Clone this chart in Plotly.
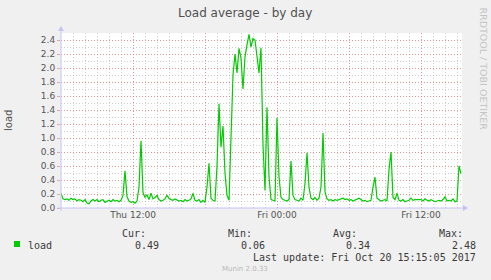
import pandas as pd
import plotly.graph_objects as go

# ---- data (10-minute samples) ----
start_time = "2017-10-19 06:00"
load_values = [
    0.21, 0.13, 0.12, 0.13, 0.11, 0.14, 0.12, 0.13, 0.10, 0.12,
    0.11, 0.09, 0.12, 0.07, 0.06, 0.10, 0.12, 0.10, 0.12, 0.09,
    0.11, 0.12, 0.08, 0.10, 0.11, 0.09, 0.12, 0.10, 0.11, 0.09,
    0.11, 0.18, 0.53, 0.16, 0.10, 0.08, 0.09, 0.07, 0.10, 0.30,
    0.96, 0.22, 0.15, 0.19, 0.12, 0.21, 0.13, 0.15, 0.18, 0.12,
    0.10, 0.11, 0.13, 0.18, 0.14, 0.12, 0.11, 0.13, 0.12, 0.10,
    0.11, 0.09, 0.12, 0.10, 0.11, 0.13, 0.21, 0.11, 0.10, 0.12,
    0.08, 0.11, 0.08, 0.30, 0.64, 0.14, 0.11, 0.10, 0.60, 1.49,
    0.87, 1.17, 0.50, 0.18, 0.11, 0.97, 1.90, 2.20, 1.93, 2.28,
    2.14, 1.70, 2.16, 2.33, 2.48, 2.30, 2.42, 2.40, 2.20, 1.93,
    2.29, 0.90, 0.25, 1.44, 0.45, 0.12, 0.11, 0.10, 1.29, 0.45,
    0.15, 0.12, 0.11, 0.10, 0.12, 0.67, 0.18, 0.12, 0.11, 0.10,
    0.14, 0.11, 0.35, 0.79, 0.30, 0.14, 0.12, 0.15, 0.11, 0.14,
    0.30, 1.07, 0.23, 0.13, 0.11, 0.12, 0.10, 0.12, 0.11, 0.12,
    0.13, 0.14, 0.12, 0.13, 0.11, 0.12, 0.10, 0.11, 0.12, 0.14,
    0.12, 0.10, 0.11, 0.09, 0.10, 0.11, 0.30, 0.44, 0.14, 0.12,
    0.10, 0.11, 0.12, 0.10, 0.55, 0.80, 0.15, 0.12, 0.21, 0.11,
    0.10, 0.12, 0.09, 0.10, 0.11, 0.14, 0.11, 0.12, 0.12, 0.11,
    0.12, 0.10, 0.13, 0.11, 0.10, 0.12, 0.10, 0.09, 0.10, 0.11,
    0.10, 0.12, 0.16, 0.10, 0.11, 0.10, 0.13, 0.09, 0.10, 0.60,
    0.49,
]
x_range = ["2017-10-19 06:00", "2017-10-20 15:25"]
x_tickvals = ["2017-10-19 12:00", "2017-10-19 18:00", "2017-10-20 00:00",
              "2017-10-20 06:00", "2017-10-20 12:00"]
x_ticktext = ["Thu 12:00", "", "Fri 00:00", "", "Fri 12:00"]
y_tickvals = [0.0, 0.2, 0.4, 0.6, 0.8, 1.0, 1.2, 1.4, 1.6, 1.8, 2.0, 2.2, 2.4]
legend_name = "load"
stat_labels = ["Cur:", "Min:", "Avg:", "Max:"]
stat_values = ["0.49", "0.06", "0.34", "2.48"]
title_text = "Load average - by day"
last_update = "Last update: Fri Oct 20 15:15:05 2017"

times = pd.date_range(start_time, periods=len(load_values), freq="10min")

# ---- geometry helpers (pixel -> paper) ----
L, R, T, B = 61, 462, 33, 208
W, H = 491, 280


def px(x):
    return (x - L) / (R - L)


def py(y):
    return (B - y) / (B - T)


MAJ = "rgba(232,100,100,0.55)"
MIN = "rgba(150,150,150,0.45)"
AX = "#c4c4f4"
TXT = "#555555"

fig = go.Figure()
fig.add_trace(go.Scatter(x=times, y=load_values, mode="lines",
                         line=dict(color="#00cc00", width=1.2),
                         hoverinfo="skip", showlegend=False))

fig.update_layout(
    width=W, height=H,
    margin=dict(l=L, r=W - R, t=T, b=H - B),
    paper_bgcolor="#f0f0f0", plot_bgcolor="#ffffff",
    font=dict(family="DejaVu Sans", size=9, color=TXT),
    showlegend=False,
)
fig.update_xaxes(
    type="date", range=x_range, tickmode="array",
    tickvals=x_tickvals, ticktext=x_ticktext,
    showgrid=True, gridcolor=MAJ, griddash="1px,2px", gridwidth=1,
    ticks="", showline=False, zeroline=False,
    tickfont=dict(size=9, color=TXT),
    minor=dict(tick0="2017-10-19 06:00", dtick=3600000, showgrid=True,
               gridcolor=MIN, griddash="1px,2px", gridwidth=1),
)
fig.update_yaxes(
    range=[0, 2.5], tickmode="array", tickvals=y_tickvals,
    tickformat=".1f", showgrid=True, gridcolor=MAJ, griddash="1px,2px",
    gridwidth=1, ticks="outside", ticklen=3, tickcolor=MAJ,
    showline=False, zeroline=False, tickfont=dict(size=9, color=TXT),
    minor=dict(tick0=0, dtick=0.1, showgrid=True, gridcolor=MIN,
               griddash="1px,2px", gridwidth=1),
)

shapes = []
# axes with arrows
shapes.append(dict(type="line", xref="paper", yref="paper",
                   x0=px(58), x1=px(464), y0=py(208), y1=py(208),
                   line=dict(color=AX, width=1)))
shapes.append(dict(type="line", xref="paper", yref="paper",
                   x0=px(61), x1=px(61), y0=py(211), y1=py(31),
                   line=dict(color=AX, width=1)))
shapes.append(dict(type="path", xref="paper", yref="paper",
                   path=f"M {px(463)} {py(205)} L {px(468)} {py(208)} L {px(463)} {py(211)} Z",
                   fillcolor=AX, line=dict(color=AX, width=0)))
shapes.append(dict(type="path", xref="paper", yref="paper",
                   path=f"M {px(58)} {py(31)} L {px(61)} {py(26)} L {px(64)} {py(31)} Z",
                   fillcolor=AX, line=dict(color=AX, width=0)))
# legend swatch
shapes.append(dict(type="rect", xref="paper", yref="paper",
                   x0=px(14), x1=px(20), y0=py(247), y1=py(241),
                   fillcolor="#00cc00", line=dict(color="#00cc00", width=0)))
fig.update_layout(shapes=shapes)

ann = []
ann.append(dict(text=title_text, x=px(245), y=py(13), xref="paper", yref="paper",
                showarrow=False, xanchor="center", yanchor="middle",
                font=dict(family="DejaVu Sans", size=12, color="#505050")))
ann.append(dict(text="load", x=px(8), y=py(120), xref="paper", yref="paper",
                showarrow=False, textangle=-90, xanchor="center", yanchor="middle",
                font=dict(family="DejaVu Sans", size=10, color=TXT)))
ann.append(dict(text="RRDTOOL / TOBI OETIKER", x=px(483), y=py(5), xref="paper",
                yref="paper", showarrow=False, textangle=90, xanchor="center",
                yanchor="top", font=dict(family="DejaVu Sans", size=9.5, color="#c4c4c4")))
mono = dict(family="DejaVu Sans Mono", size=10, color="#3a3a3a")
ann.append(dict(text=legend_name, x=px(26), y=py(245), xref="paper", yref="paper",
                showarrow=False, xanchor="left", yanchor="middle", font=mono))
label_right = [148, 254, 359, 465]
value_right = [161, 267, 372, 478]
for lab, val, lr, vr in zip(stat_labels, stat_values, label_right, value_right):
    ann.append(dict(text=lab, x=px(lr), y=py(233), xref="paper", yref="paper",
                    showarrow=False, xanchor="right", yanchor="middle", font=mono))
    ann.append(dict(text=val, x=px(vr), y=py(245), xref="paper", yref="paper",
                    showarrow=False, xanchor="right", yanchor="middle", font=mono))
ann.append(dict(text=last_update, x=px(478), y=py(257), xref="paper", yref="paper",
                showarrow=False, xanchor="right", yanchor="middle", font=mono))
ann.append(dict(text="Munin 2.0.33", x=px(245), y=py(269), xref="paper", yref="paper",
                showarrow=False, xanchor="center", yanchor="middle",
                font=dict(family="DejaVu Sans", size=7, color="#b8b8b8")))
fig.update_layout(annotations=ann)

fig.write_html("out.html", config=dict(displayModeBar=False))
